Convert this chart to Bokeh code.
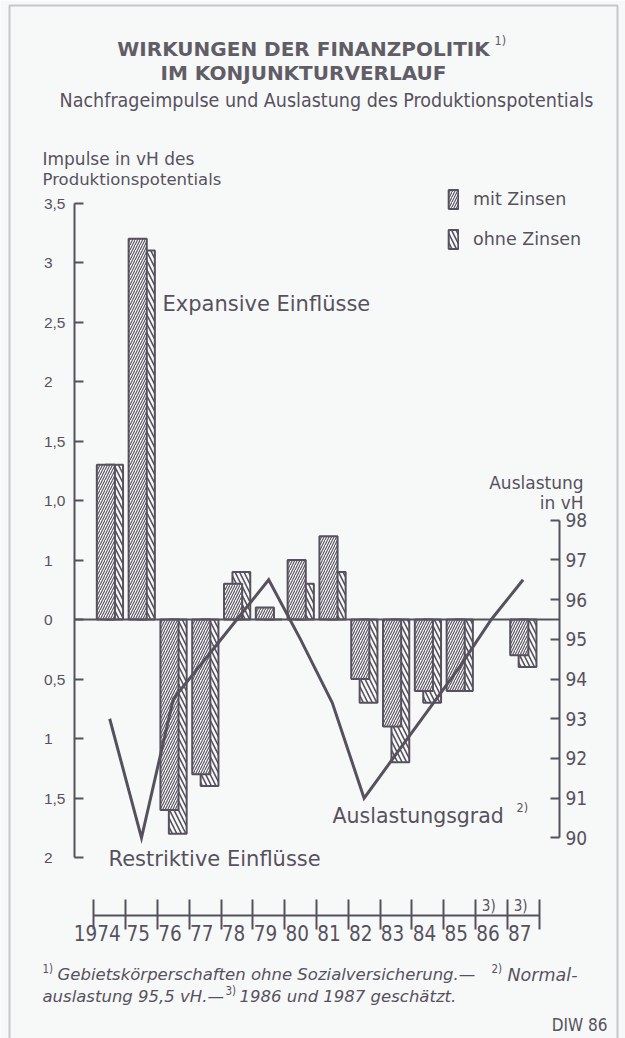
import numpy as np
from bokeh.plotting import figure
from bokeh.models import (Range1d, LinearAxis, FixedTicker, Label, Legend,
                          LegendItem, PolyAnnotation, ColumnDataSource)
from bokeh.embed import file_html
from bokeh.resources import INLINE

# ---------------- data ----------------
years = ["1974", "75", "76", "77", "78", "79", "80", "81", "82", "83", "84", "85", "86", "87"]
mit_zinsen = [1.3, 3.2, -1.6, -1.3, 0.3, 0.1, 0.5, 0.7, -0.5, -0.9, -0.6, -0.6, np.nan, -0.3]
ohne_zinsen = [1.3, 3.1, -1.8, -1.4, 0.4, 0.0, 0.3, 0.4, -0.7, -1.2, -0.7, -0.6, np.nan, -0.4]
auslastungsgrad = [93.0, 90.0, 93.5, 94.5, 95.5, 96.5, 95.0, 93.4, 91.0, 92.1, 93.2, 94.3, 95.5, 96.5]
left_tick_values = [3.5, 3.0, 2.5, 2.0, 1.5, 1.0, 0.5, 0.0, -0.5, -1.0, -1.5, -2.0]
left_tick_labels = ["3,5", "3", "2,5", "2", "1,5", "1,0", "1", "0", "0,5", "1", "1,5", "2"]
right_tick_values = [90, 91, 92, 93, 94, 95, 96, 97, 98]
estimated_years = ["86", "87"]
normal_auslastung = 95.5

# ---------------- layout helpers (page pixels -> data) ----------------
W, H = 625, 1038
SLOT0, SLOT = 93.3, 31.8
ZERO, UNIT, AUS_UNIT = 619.0, 119.0, 39.7
AX_L, AX_R, AX_B = 74, 559, 915

def dx(px):
    return (px - SLOT0) / SLOT - 0.5

def dy(py):
    return (ZERO - py) / UNIT

def du(py):
    return normal_auslastung + (ZERO - py) / AUS_UNIT

INK = "#57515e"
TITLE = "#615d66"
BG = "#f7f9f9"
NARROW = "Liberation Sans Narrow, DejaVu Sans Condensed, Arial Narrow, sans-serif"
WIDE = "DejaVu Sans"

p = figure(width=W, height=H, output_backend="svg", toolbar_location=None,
           x_range=Range1d(dx(0), dx(W)), y_range=Range1d(dy(H), dy(0)),
           x_axis_location=None, y_axis_location=None, min_border=0,
           min_border_left=0, min_border_right=0, min_border_top=0, min_border_bottom=0)
p.background_fill_color = BG
p.border_fill_color = BG
p.outline_line_color = None
for g in p.grid:
    g.visible = False
p.extra_y_ranges = {"ausl": Range1d(du(H), du(0))}

# ---------------- axes ----------------
pad = "\u00a0\u00a0\u00a0"
yl = LinearAxis(ticker=FixedTicker(ticks=left_tick_values), fixed_location=dx(AX_L),
                major_label_overrides={float(v): (t if "," in t else t + pad)
                                       for v, t in zip(left_tick_values, left_tick_labels)},
                bounds=(min(left_tick_values), max(left_tick_values)))
yl.axis_line_color = INK
yl.axis_line_width = 2
yl.major_tick_line_color = INK
yl.major_tick_line_width = 2
yl.major_tick_in = 9
yl.major_tick_out = 0
yl.minor_tick_line_color = None
yl.major_label_standoff = 9
yl.major_label_text_font = "Liberation Sans"
yl.major_label_text_font_size = "15.5px"
yl.major_label_text_color = INK
p.add_layout(yl, "left")

yr = LinearAxis(y_range_name="ausl", ticker=FixedTicker(ticks=right_tick_values),
                fixed_location=dx(AX_R),
                bounds=(min(right_tick_values), max(right_tick_values)))
yr.axis_line_color = INK
yr.axis_line_width = 2
yr.major_tick_line_color = INK
yr.major_tick_line_width = 2
yr.major_tick_in = 9
yr.major_tick_out = 0
yr.minor_tick_line_color = None
yr.major_label_standoff = 6
yr.major_label_text_font = NARROW
yr.major_label_text_font_size = "19px"
yr.major_label_text_color = INK
p.add_layout(yr, "right")

idx = np.arange(len(years))
# each year label sits just left of the next slot boundary
label_pos = [float(i) + 0.5 - (10.0 + 4.6 * len(y)) / SLOT for i, y in zip(idx, years)]
bounds_pos = [float(i) - 0.5 for i in range(len(years) + 1)]
xa = LinearAxis(ticker=FixedTicker(ticks=label_pos, minor_ticks=bounds_pos),
                fixed_location=dy(AX_B),
                major_label_overrides={k: y for k, y in zip(label_pos, years)},
                bounds=(bounds_pos[0], bounds_pos[-1]))
xa.axis_line_color = INK
xa.axis_line_width = 2
xa.major_tick_line_color = None
xa.major_tick_in = 0
xa.major_tick_out = 0
xa.minor_tick_line_color = INK
xa.minor_tick_line_width = 2
xa.minor_tick_in = 16
xa.minor_tick_out = 14
xa.major_label_standoff = -5
xa.major_label_text_font = NARROW
xa.major_label_text_font_size = "20.5px"
xa.major_label_text_color = INK
p.add_layout(xa, "below")

# ---------------- bars & line ----------------
src = ColumnDataSource(dict(x_mit=idx - 0.12, x_ohne=idx + 0.14,
                            mit=np.array(mit_zinsen, dtype=float),
                            ohne=np.array(ohne_zinsen, dtype=float)))
r_ohne = p.vbar(x="x_ohne", top="ohne", bottom=0, width=0.56, source=src,
                fill_color=BG, line_color=INK, line_width=2,
                hatch_pattern="\\", hatch_scale=9, hatch_weight=1.6, hatch_color=INK)
r_mit = p.vbar(x="x_mit", top="mit", bottom=0, width=0.57, source=src,
               fill_color=BG, line_color=INK, line_width=2,
               hatch_pattern="/", hatch_scale=5, hatch_weight=1.1, hatch_color=INK)
p.line(idx, auslastungsgrad, y_range_name="ausl", line_width=3, line_color=INK,
       line_join="miter")
p.segment(x0=[dx(AX_L)], y0=[0.0], x1=[dx(AX_R)], y1=[0.0], line_color=INK, line_width=2)

legend = Legend(items=[LegendItem(label="mit Zinsen", renderers=[r_mit]),
                       LegendItem(label="ohne Zinsen", renderers=[r_ohne])],
                location=(447, H - 251), orientation="vertical",
                glyph_width=12, glyph_height=24, label_height=24, spacing=16,
                padding=0, margin=0, label_standoff=14,
                border_line_alpha=0, background_fill_alpha=0,
                label_text_font=WIDE, label_text_font_size="17.5px",
                label_text_color=INK)
p.add_layout(legend)

# ---------------- texts ----------------
def lab(px, py, text, size, font=WIDE, align="left", style="normal", color=INK):
    p.add_layout(Label(x=dx(px), y=dy(py), text=text, text_align=align,
                       text_baseline="middle", text_font=font,
                       text_font_size=size, text_font_style=style, text_color=color))

lab(303, 48, "WIRKUNGEN DER FINANZPOLITIK", "20px", align="center", style="bold", color=TITLE)
lab(494, 40, "1)", "12.5px", font=NARROW, color=TITLE)
lab(303, 72, "IM KONJUNKTURVERLAUF", "20px", align="center", style="bold", color=TITLE)
lab(326, 100, "Nachfrageimpulse und Auslastung des Produktionspotentials", "19.5px",
    font=NARROW, align="center")
lab(42, 158, "Impulse in vH des", "17px")
lab(42, 179, "Produktionspotentials", "16.5px")
lab(162, 303, "Expansive Einflüsse", "21px")
lab(583, 482, "Auslastung", "17px", align="right")
lab(583, 502, "in vH", "17px", align="right")
lab(332, 815, "Auslastungsgrad", "20.5px")
lab(516, 807, "2)", "12.5px", font=NARROW)
lab(108, 858, "Restriktive Einflüsse", "21px")
for y in estimated_years:
    i = years.index(y)
    p.add_layout(Label(x=float(i) - 0.08, y=dy(905), text="3)", text_align="center",
                       text_baseline="middle", text_font=NARROW,
                       text_font_size="15px", text_color=INK))
lab(42, 968, "1)", "11.5px", font=NARROW)
lab(57, 974, "Gebietskörperschaften ohne Sozialversicherung.—", "16.5px", style="italic")
lab(491, 968, "2)", "11.5px", font=NARROW)
lab(507, 974, "Normal-", "17.5px", style="italic")
lab(42, 996, "auslastung 95,5 vH.—", "16.5px", style="italic")
lab(225, 990, "3)", "11.5px", font=NARROW)
lab(239, 996, "1986 und 1987 geschätzt.", "16.5px", style="italic")
lab(607, 1024, "DIW 86", "17px", font=NARROW, align="right")

# outer frame of the graphic
p.add_layout(PolyAnnotation(xs=[dx(9), dx(9), dx(617), dx(617)],
                            ys=[dy(1060), dy(5), dy(5), dy(1060)],
                            fill_alpha=0, line_color=INK, line_width=2))

open("out.html", "w").write(file_html(p, INLINE))
